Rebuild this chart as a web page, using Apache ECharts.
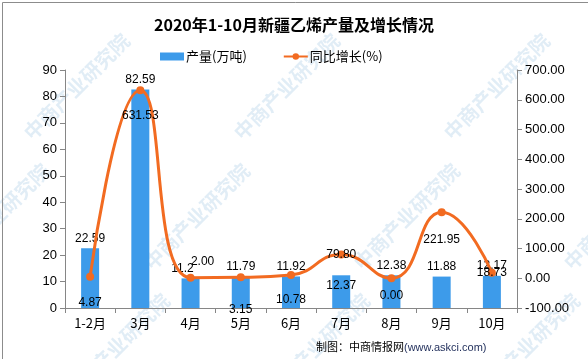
<!DOCTYPE html>
<html><head><meta charset="utf-8">
<script src="https://cdn.jsdelivr.net/npm/echarts@6/dist/echarts.min.js"></script>
<style>html,body{margin:0;padding:0;background:#fff}#c{width:588px;height:359px}</style>
</head><body><div id="c"></div>
<script>
const categories = ['1-2月','3月','4月','5月','6月','7月','8月','9月','10月'];
const output = [22.59, 82.59, 11.2, 11.79, 11.92, 12.37, 12.38, 11.88, 12.17];
const growth = [4.87, 631.53, 2.00, 3.15, 10.78, 79.80, 0.00, 221.95, 18.73];
const growthLabels = ['4.87','631.53','2.00','3.15','10.78','79.80','0.00','221.95','18.73'];
const leftTicks = {min: 0, max: 90, interval: 10};
const rightTicks = {min: -100, max: 700, interval: 100};

const lineLabelPos = ['bottom','bottom','top','bottom','bottom','inside','bottom','bottom','inside'];
const lineLabelDist = [16, 15, 6, 22, 15, 0, 7, 17, 0];
const lineLabelOffsetX = [0, 0, 12, 0, 0, 0, 0, 0, 0];
const barLabelPos = ['top','top','top','top','top','insideTop','top','top','top'];
const barLabelOffsetX = [0, 0, -8, 0, 0, 0, 0, 0, 0];

const chart = echarts.init(document.getElementById('c'));
const labelFont = {fontFamily: 'Liberation Sans, sans-serif', fontSize: 12, color: '#000'};
const axisColor = '#868686';

const wmGraphics = [];
const wmPos = [[20,30],[230,30],[440,30],[-60,160],[140,160],[350,160],[560,160],[60,290],[260,290],[470,290]];
wmPos.forEach(p => {
  wmGraphics.push({type:'text', left:p[0], top:p[1], rotation: Math.PI/4, z:-1,
    style:{text:'中商产业研究院', font:'bold 20px "Noto Sans CJK SC"', fill:'rgba(120,175,215,0.22)'}});
});

chart.setOption({
  animation: false,
  backgroundColor: '#fff',
  title: {text: '2020年1-10月新疆乙烯产量及增长情况', left: 'center', top: 12,
    textStyle: {fontFamily: 'Noto Sans CJK SC', fontWeight: 'bold', fontSize: 16, color: '#000'}},
  legend: {top: 45, left: 155, itemGap: 36, itemWidth: 24, itemHeight: 8,
    textStyle: {fontFamily: 'Noto Sans CJK SC', fontSize: 13, color: '#000', padding:[0,0,0,-3]},
    data: [{name:'产量(万吨)', icon:'rect'}, {name:'同比增长(%)'}]},
  grid: {left: 65, right: 71, top: 70, bottom: 51},
  xAxis: {type: 'category', data: categories,
    axisLine: {lineStyle: {color: axisColor}},
    axisTick: {show: true, alignWithLabel: false, length: 5, lineStyle: {color: axisColor}},
    axisLabel: {fontFamily: 'Noto Sans CJK SC', fontSize: 13, color: '#000', margin: 9}},
  yAxis: [
    {type: 'value', min: leftTicks.min, max: leftTicks.max, interval: leftTicks.interval,
      axisLine: {show: true, lineStyle: {color: axisColor}},
      axisTick: {show: true, length: 5, lineStyle: {color: axisColor}},
      splitLine: {show: false},
      axisLabel: {fontFamily: 'Liberation Sans, sans-serif', fontSize: 13, color: '#000', margin: 8}},
    {type: 'value', min: rightTicks.min, max: rightTicks.max, interval: rightTicks.interval,
      position: 'right',
      axisLine: {show: true, lineStyle: {color: axisColor}},
      axisTick: {show: true, length: 5, lineStyle: {color: axisColor}},
      splitLine: {show: false},
      axisLabel: {fontFamily: 'Liberation Sans, sans-serif', fontSize: 13, color: '#000', margin: 8,
        formatter: v => v.toFixed(2)}}
  ],
  graphic: wmGraphics.concat([
    {type:'rect', left:0, top:0, z:100, shape:{width:587, height:358}, style:{fill:'none', stroke:'#8c8c8c', lineWidth:1}},
    {type:'text', left:316, top:341, z:100, style:{text:'制图：中商情报网', font:'11px "Noto Sans CJK SC"', fill:'#000'}},
    {type:'text', left:404, top:342, z:100, style:{text:'(www.askci.com)', font:'11px "Liberation Sans"', fill:'#1f2d5a'}}
  ]),
  series: [
    {name: '产量(万吨)', type: 'bar', yAxisIndex: 0, barWidth: 18,
      itemStyle: {color: '#3D9BEA'},
      data: output.map((v, i) => ({value: v,
        label: {show: true, position: barLabelPos[i], offset: [barLabelOffsetX[i], 0], distance: 4,
          formatter: String(v), ...labelFont}}))},
    {name: '同比增长(%)', type: 'line', yAxisIndex: 1, smooth: 0.5,
      symbol: 'circle', symbolSize: 8,
      lineStyle: {color: '#F26B21', width: 3}, itemStyle: {color: '#F26B21'},
      data: growth.map((v, i) => ({value: v,
        label: {show: true, position: lineLabelPos[i], distance: lineLabelDist[i],
          offset: [lineLabelOffsetX[i], 0], formatter: growthLabels[i], ...labelFont}}))}
  ]
});
</script></body></html>
